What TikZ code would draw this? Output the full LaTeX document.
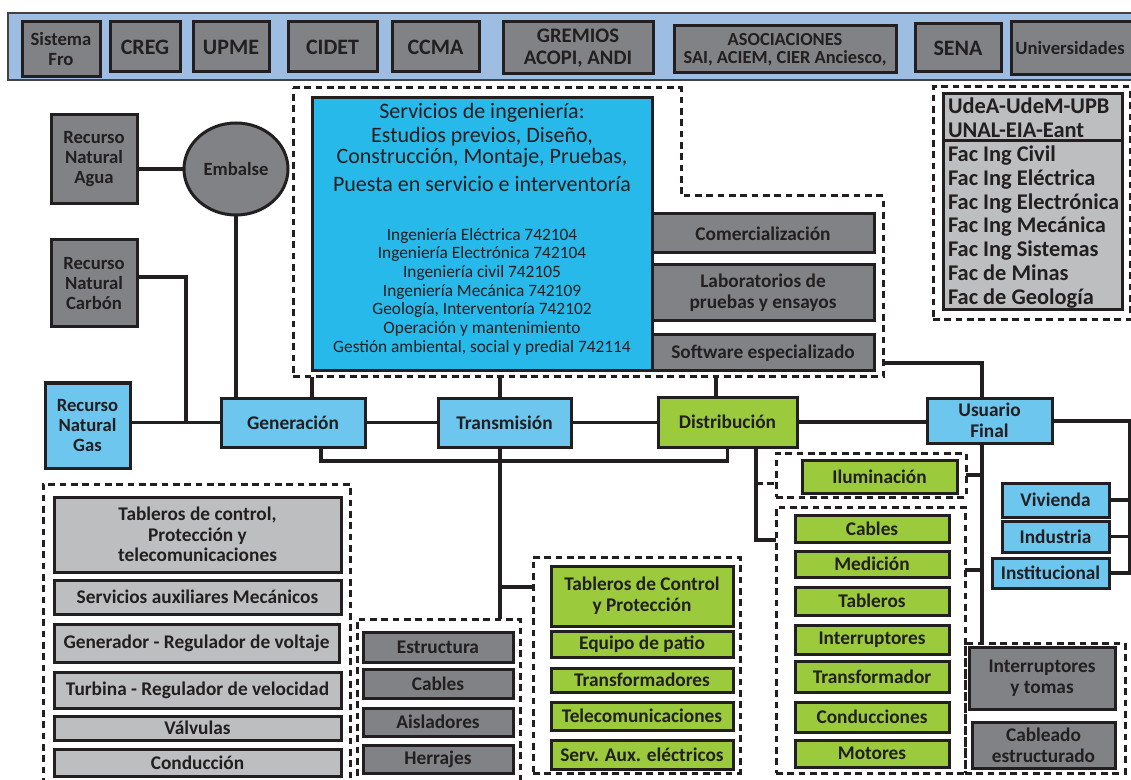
\documentclass[tikz,border=0pt]{standalone}
\usepackage{fontspec}
\setmainfont{Carlito}
\usetikzlibrary{shapes.geometric}
\definecolor{ink}{HTML}{231F20}
\definecolor{bandblue}{HTML}{9DBDE2}
\definecolor{dgray}{HTML}{808285}
\definecolor{lgray}{HTML}{BCBEC0}
\definecolor{lblue}{HTML}{6DC6EE}
\definecolor{svblue}{HTML}{27B9EA}
\definecolor{lgreen}{HTML}{9BCA3C}
\newcommand\setfs[2]{\fontsize{#1}{#2}\selectfont}
\newcommand\bx[7]{\node[#6, anchor=north west, minimum width={(#4-#2)*0.75pt}, minimum height={(#5-#3)*0.75pt}] (#1) at (#2,#3) {#7};}
\tikzset{
  bxbase/.style={draw=ink, line width=2.25pt, text=ink, align=center, inner sep=0pt, outer sep=0pt, font=\bfseries\setfs{14.5}{15.5}},
  darkbox/.style={bxbase, fill=dgray},
  lgbox/.style={bxbase, fill=lgray},
  bluebox/.style={bxbase, fill=lblue},
  greenbox/.style={bxbase, fill=lgreen},
  svbox/.style={bxbase, fill=svblue},
  bandbox/.style={draw=ink!85, fill=bandblue, line width=2pt, inner sep=0pt, outer sep=0pt},
  grp/.style={draw=ink, line width=2.25pt, dash pattern=on 5pt off 3.5pt, inner sep=0pt, outer sep=0pt},
  conn/.style={draw=ink, line width=2.6pt},
  txt/.style={text=ink, inner sep=0pt, outer sep=0pt},
  big/.style={font=\bfseries\setfs{16.5}{17}},
}
\begin{document}
\begin{tikzpicture}[x=0.75pt,y=-0.75pt]
\clip (0,0) rectangle (1131,780);
% ---- top band
\bx{band}{8}{13}{1150}{80}{bandbox}{}
\bx{sis}{22}{22}{100}{77}{darkbox,font=\bfseries\setfs{14}{15}}{Sistema\\Fro}
\bx{creg}{110}{22}{180}{72}{darkbox,big}{CREG}
\bx{upme}{193}{22}{269}{72}{darkbox,big}{UPME}
\bx{cidet}{288}{22}{377}{72}{darkbox,big}{CIDET}
\bx{ccma}{392}{22}{479}{72}{darkbox,big}{CCMA}
\bx{grem}{503}{22}{653}{74}{darkbox,font=\bfseries\setfs{15.5}{16}}{GREMIOS\\ACOPI, ANDI}
\bx{asoc}{674}{26}{896}{73}{darkbox,font=\bfseries\setfs{13.8}{13.8}}{ASOCIACIONES\\SAI, ACIEM, CIER Anciesco,}
\bx{sena}{915}{24}{1001}{72}{darkbox,big}{SENA}
\bx{univ}{1011}{22}{1150}{75}{darkbox,font=\bfseries\setfs{14}{15}}{Universidades\hspace*{15.75pt}}
% ---- groups
\draw[grp] (293,88) -- (681,88) -- (681,196) -- (883,196) -- (883,377) -- (293,377) -- cycle;
\coordinate (sb1) at (312,377);
\coordinate (sb2) at (500,377);
\coordinate (sb3) at (716,377);
\coordinate (sgr) at (883,363);
\bx{ug}{933}{87}{1130}{320}{grp}{}
\bx{genG}{43}{484}{350}{800}{grp}{}
\bx{estG}{357}{619}{520}{800}{grp}{}
\bx{tabG}{533}{557}{740}{773}{grp}{}
\bx{ilumG}{776}{453}{966}{497}{grp}{}
\bx{cabG}{776}{507}{965}{773}{grp}{}
\bx{intG}{965}{643}{1125}{773}{grp}{}
% ---- resources
\bx{agua}{51}{115}{137}{204}{darkbox,font=\bfseries\setfs{14}{15}}{Recurso\\Natural\\Agua}
\node[darkbox, ellipse, minimum width=104*0.75pt, minimum height=92*0.75pt, font=\bfseries\setfs{14}{15}] (emb) at (236,169) {Embalse};
\bx{carbon}{51}{240}{137}{327}{darkbox,font=\bfseries\setfs{14}{15}}{Recurso\\Natural\\Carbón}
\bx{gas}{45}{383}{130}{468}{bluebox,font=\bfseries\setfs{14}{15}}{Recurso\\Natural\\Gas}
% ---- chain
\bx{gen}{221}{398}{365}{447}{bluebox}{Generación}
\bx{trans}{438}{398}{571}{447}{bluebox}{Transmisión}
\bx{dist}{658}{397}{797}{447}{greenbox}{Distribución}
\bx{uf}{927}{398}{1052}{443}{bluebox}{Usuario\\Final}
% ---- services
\bx{svc}{312}{98}{652}{371}{svbox}{}
\node[txt, anchor=north, align=center, font=\setfs{16.5}{16}] (svt) at (482,103) {Servicios de ingeniería:\\[2pt]Estudios previos, Diseño,\\Construcción, Montaje, Pruebas,\\[5pt]Puesta en servicio e interventoría};
\node[txt, anchor=north, align=center, font=\setfs{13}{14}] (svl) at (482,228) {Ingeniería Eléctrica 742104\\Ingeniería Electrónica 742104\\Ingeniería civil 742105\\Ingeniería Mecánica 742109\\Geología, Interventoría 742102\\Operación y mantenimiento\\Gestión ambiental, social y predial 742114};
\bx{com}{652}{214}{874}{253}{darkbox}{Comercialización}
\bx{lab}{652}{265}{874}{321}{darkbox}{Laboratorios de\\pruebas y ensayos}
\bx{soft}{652}{335}{874}{371}{darkbox}{Software especializado}
% ---- universities
\bx{utop}{943}{94}{1122}{141}{lgbox}{}
\bx{ubot}{943}{141}{1122}{310}{lgbox}{}
\node[txt, anchor=north west, align=left, font=\bfseries\setfs{16.8}{17.5}] (utt) at (948,98) {UdeA-UdeM-UPB\\UNAL-EIA-Eant};
\node[txt, anchor=north west, align=left, font=\bfseries\setfs{16.8}{17.8}] (ubt) at (948,146) {Fac Ing Civil\\Fac Ing Eléctrica\\Fac Ing Electrónica\\Fac Ing Mecánica\\Fac Ing Sistemas\\Fac de Minas\\Fac de Geología};
% ---- generation items
\bx{g1}{54}{497}{341}{572}{lgbox}{Tableros de control,\\Protección y\\telecomunicaciones}
\bx{g2}{54}{580}{341}{614}{lgbox}{Servicios auxiliares Mecánicos}
\bx{g3}{54}{624}{339}{662}{lgbox}{Generador - Regulador de voltaje}
\bx{g4}{54}{672}{341}{708}{lgbox}{Turbina - Regulador de velocidad}
\bx{g5}{54}{716}{341}{740}{lgbox}{Válvulas}
\bx{g6}{54}{749}{341}{776}{lgbox}{Conducción}
% ---- transmission items
\bx{e1}{363}{632}{513}{662}{darkbox}{Estructura}
\bx{e2}{363}{669}{513}{698}{darkbox}{Cables}
\bx{e3}{363}{708}{513}{736}{darkbox}{Aisladores}
\bx{e4}{363}{745}{513}{773}{darkbox}{Herrajes}
\bx{t1}{551}{566}{733}{626}{greenbox}{Tableros de Control\\y Protección}
\bx{t2}{551}{631}{733}{657}{greenbox}{Equipo de patio}
\bx{t3}{551}{668}{733}{692}{greenbox}{Transformadores}
\bx{t4}{551}{702}{733}{730}{greenbox}{Telecomunicaciones}
\bx{t5}{551}{740}{733}{769}{greenbox}{Serv. Aux. eléctricos}
% ---- distribution items
\bx{il}{802}{460}{957}{493}{greenbox}{Iluminación}
\bx{c1}{795}{515}{949}{542}{greenbox}{Cables}
\bx{c2}{795}{551}{949}{577}{greenbox}{Medición}
\bx{c3}{795}{587}{949}{615}{greenbox}{Tableros}
\bx{c4}{795}{625}{949}{654}{greenbox}{Interruptores}
\bx{c5}{795}{661}{949}{692}{greenbox}{Transformador}
\bx{c6}{795}{702}{949}{732}{greenbox}{Conducciones}
\bx{c7}{795}{740}{949}{767}{greenbox}{Motores}
% ---- end user items
\bx{viv}{1002}{483}{1109}{517}{bluebox}{Vivienda}
\bx{ind}{1002}{521}{1109}{552}{bluebox}{Industria}
\bx{inst}{992}{558}{1109}{588}{bluebox}{Institucional}
\bx{it}{969}{647}{1115}{709}{darkbox}{Interruptores\\y tomas}
\bx{cab}{972}{722}{1115}{768}{darkbox}{Cableado\\estructurado}
% ---- connectors
\coordinate (jc) at (186,277);
\coordinate (tb) at (500,587);
\coordinate (d2) at (756,540);
\coordinate (d3) at (756,483);
\coordinate (u1) at (982,363);
\coordinate (u2) at (982,570);
\coordinate (r1) at (1130,421);
\draw[conn] (agua.east |- emb.west) -- (emb.west);
\draw[conn] (emb.south) -- (emb.south |- gen.north);
\draw[conn] (carbon.east |- jc) -- (jc) -- (jc |- gen.west);
\draw[conn] (gas.east |- gen.west) -- (gen.west);
\draw[conn] (gen.east) -- (trans.west);
\draw[conn] (trans.east) -- (trans.east -| dist.west);
\draw[conn] (dist.east) -- (dist.east -| uf.west);
\draw[conn] (sb1) -- (sb1 |- gen.north);
\draw[conn] (sb2) -- (sb2 |- trans.north);
\draw[conn] (sb3) -- (sb3 |- dist.north);
\draw[conn] ([xshift=21pt]gen.south) -- ++(0,14) -| (dist.south);
\draw[conn] (sb2 |- trans.south) -- (sb2 |- estG.north);
\draw[conn] (tb) -- (tb -| tabG.west);
\draw[conn] (d2 |- dist.south) -- (d2) -- (d2 -| cabG.west);
\draw[grp] (d3) -- (d3 -| ilumG.west);
\draw[conn] (sgr) -- (u1) -- (u1 |- uf.north);
\draw[conn] (u1 |- uf.south) -- (u1 |- intG.north);
\draw[conn] (ilumG.east) -- (ilumG.east -| u1);
\draw[conn] (u2 -| cabG.east) -- (u2);
\draw[conn] (uf.east |- r1) -- (r1) -- (r1 |- inst.east) -- (inst.east);
\draw[conn] (viv.east) -- (viv.east -| r1);
\draw[conn] (ind.east) -- (ind.east -| r1);
\end{tikzpicture}
\end{document}
